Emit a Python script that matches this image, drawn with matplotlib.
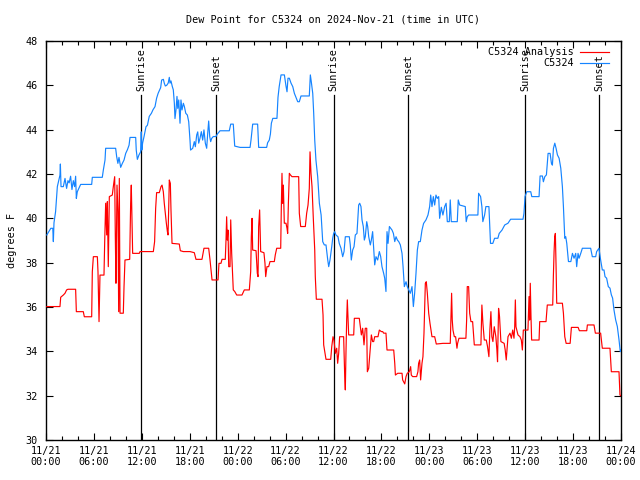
import matplotlib
matplotlib.use("Agg")
import matplotlib.pyplot as plt

# ---- data (hours since 2024-11-21 00:00 UTC, degrees F) ----
blue_h = [0.1, 0.6, 0.85, 0.92, 1.0, 1.2, 1.42, 1.75, 1.8, 1.88, 2.17, 2.38, 2.58, 2.75, 2.9, 3.08, 3.25, 3.42, 3.58, 3.71,
          3.8, 3.92, 4.34, 5.72, 5.8, 7.05, 7.18, 7.39, 7.47, 8.72, 8.85, 9.0, 9.14, 9.35, 9.56, 9.77, 9.98, 10.2, 10.4, 10.52,
          11.23, 11.3, 11.44, 11.64, 11.85, 11.93, 12.0, 12.1, 12.27, 12.52, 12.7, 12.93, 13.2, 13.4, 13.65, 13.85, 14.04,
          14.36, 14.48, 14.7, 14.81, 14.94, 15.11, 15.3, 15.44, 15.53, 15.65, 15.82, 15.94, 16.07, 16.15, 16.28, 16.4, 16.5,
          16.62, 16.78, 16.9, 17.03, 17.2, 17.33, 17.5, 17.7, 17.87, 18.03, 18.1, 18.37, 18.57, 18.7, 18.87, 19.0, 19.12,
          19.28, 19.45, 19.62, 19.78, 19.95, 20.12, 20.25, 20.37, 20.5, 20.62, 20.75, 20.95, 21.28, 21.45, 21.79, 22.95,
          23.13, 23.45, 23.63, 24.3, 25.55, 25.67, 25.88, 26.5, 26.63, 27.63, 27.75, 27.96, 28.1, 28.22, 28.4, 28.92, 29.05,
          29.2, 29.43, 29.85, 30.05, 30.18, 30.3, 30.47, 30.68, 30.9, 31.1, 31.3, 31.52, 31.72, 31.93, 32.97, 33.1, 33.22,
          33.4, 33.52, 33.65, 33.8, 34.02, 34.23, 34.45, 34.65, 34.85, 35.06, 35.28, 35.4, 35.56, 35.78, 35.9, 36.02, 36.15,
          36.3, 36.56, 36.72, 36.94, 37.15, 37.32, 37.48, 37.98, 38.1, 38.23, 38.4, 38.57, 38.73, 38.94, 39.15, 39.28, 39.44,
          39.57, 39.73, 39.86, 39.98, 40.16, 40.28, 40.41, 40.61, 40.74, 40.9, 41.03, 41.16, 41.32, 41.53, 41.74, 41.91,
          42.07, 42.28, 42.41, 42.57, 42.7, 42.83, 43.0, 43.17, 43.33, 43.5, 43.67, 43.83, 44.0, 44.17, 44.37, 44.58, 44.71,
          44.87, 45.08, 45.24, 45.42, 45.62, 45.83, 46.0, 46.16, 46.33, 46.5, 46.66, 46.87, 47.08, 47.28, 47.58, 47.83,
          48.04, 48.17, 48.33, 48.5, 48.67, 48.83, 49.0, 49.17, 49.29, 49.5, 49.7, 49.92, 50.1, 50.25, 50.5, 50.62, 50.75,
          51.5, 51.62, 51.8, 52.5, 52.62, 52.75, 52.92, 54.08, 54.17, 54.42, 54.58, 54.7, 54.92, 55.08, 55.46, 55.58, 55.66,
          55.95, 56.17, 56.58, 56.75, 57.1, 57.44, 57.85, 58.18, 59.73, 59.85, 59.98, 60.2, 60.7, 60.83, 61.74, 61.87, 62.16,
          62.28, 62.46, 62.66, 62.87, 63.12, 63.29, 63.41, 63.54, 63.71, 63.87, 64.04, 64.25, 64.46, 64.66, 64.79, 64.96,
          65.08, 65.21, 65.42, 65.72, 65.92, 66.12, 66.33, 66.45, 66.62, 66.75, 66.96, 67.16, 68.2, 68.41, 68.83, 68.95,
          69.24, 69.45, 69.66, 69.87, 70.0, 70.2, 70.41, 70.62, 70.79, 70.95, 71.12, 71.33, 71.54, 71.75, 71.91, 72.0]
blue_v = [39.25, 39.55, 39.55, 38.95, 39.8, 40.3, 41.43, 41.95, 42.45, 41.43, 41.43, 41.8, 41.35, 41.7, 41.6, 41.9, 41.3, 41.7,
          41.43, 41.9, 40.9, 41.2, 41.53, 41.53, 41.85, 41.85, 42.18, 42.63, 43.16, 43.16, 42.78, 42.48, 42.75, 42.3, 42.48,
          42.63, 42.93, 43.1, 43.3, 43.65, 43.65, 43.08, 42.66, 42.86, 43.0, 43.9, 43.08, 43.4, 43.68, 44.13, 44.2, 44.6,
          44.74, 44.9, 45.04, 45.42, 45.64, 45.9, 46.24, 46.27, 46.1, 45.97, 46.0, 46.1, 46.36, 46.1, 46.2, 45.94, 45.8, 45.2,
          44.5, 44.9, 45.5, 44.96, 45.34, 44.29, 45.34, 44.89, 45.19, 45.04, 44.74, 44.66, 44.36, 43.53, 43.08, 43.16, 43.46,
          43.23, 43.76, 43.9, 43.39, 43.61, 43.91, 43.53, 43.99, 43.39, 43.16, 43.84, 44.39, 43.69, 43.46, 43.61, 43.69,
          43.69, 43.8, 43.95, 43.95, 44.25, 44.25, 43.26, 43.2, 43.2, 43.53, 44.25, 44.25, 43.2, 43.2, 43.41, 43.53, 43.8,
          44.29, 44.51, 44.51, 45.46, 45.94, 46.47, 46.47, 45.97, 45.71, 46.32, 46.32, 46.1, 45.94, 45.64, 45.46, 45.26,
          45.26, 45.52, 45.52, 46.47, 46.16, 45.64, 44.74, 43.53, 42.63, 41.88, 40.68, 40.15, 38.95, 38.8, 38.8, 38.12, 37.82,
          38.12, 38.72, 39.1, 39.32, 39.4, 39.25, 39.17, 38.87, 38.65, 38.27, 38.5, 39.17, 39.17, 38.8, 38.12, 38.57, 38.72,
          39.25, 39.32, 40.6, 40.68, 40.53, 39.93, 39.63, 39.02, 39.17, 39.85, 39.63, 39.17, 38.8, 39.02, 39.4, 38.65, 37.9,
          38.27, 38.12, 38.5, 38.27, 37.82, 37.52, 37.3, 36.7, 39.4, 38.87, 39.63, 39.55, 39.47, 39.32, 38.95, 39.17, 39.02,
          38.95, 38.8, 38.42, 37.82, 36.92, 37.14, 36.92, 36.77, 36.62, 36.92, 36.02, 36.62, 37.52, 38.57, 38.95, 38.95,
          39.47, 39.77, 39.93, 40.15, 40.53, 41.05, 40.53, 40.98, 40.6, 41.05, 40.9, 40.98, 40.0, 40.5, 40.15, 40.53, 40.68,
          39.85, 39.85, 40.83, 39.85, 39.85, 40.83, 40.6, 40.53, 39.85, 40.07, 40.15, 40.15, 41.13, 40.98, 40.53, 39.85,
          40.15, 40.53, 40.53, 39.47, 38.87, 38.87, 39.1, 39.1, 39.32, 39.47, 39.7, 39.78, 39.96, 39.96, 40.23, 40.98, 41.2,
          41.2, 40.98, 40.98, 41.91, 41.91, 41.65, 41.88, 41.96, 42.93, 42.93, 42.48, 42.4, 43.16, 43.39, 43.16, 42.86,
          42.71, 42.26, 41.43, 40.53, 39.1, 39.17, 38.87, 38.05, 38.05, 38.42, 38.2, 38.42, 37.82, 38.42, 38.2, 38.42, 38.65,
          38.65, 38.27, 38.27, 38.5, 38.65, 38.12, 37.67, 37.67, 37.37, 37.3, 36.92, 36.85, 36.55, 36.4, 35.87, 35.42, 35.12,
          34.52, 33.99, 34.06]

red_h = [0.1, 1.75, 1.84, 2.17, 2.38, 2.58, 2.75, 3.71, 3.8, 4.67, 4.8, 5.72, 5.8, 5.93, 6.43, 6.51, 6.64, 6.72, 6.76, 7.26,
         7.35, 7.47, 7.6, 7.68, 7.8, 7.93, 8.3, 8.43, 8.6, 8.68, 8.76, 8.89, 9.01, 9.1, 9.18, 9.27, 9.68, 9.77, 9.89, 10.48,
         10.6, 10.68, 10.77, 10.85, 11.68, 11.77, 12.68, 13.44, 13.6, 13.73, 13.85, 14.19, 14.4, 14.53, 14.69, 14.81, 14.94,
         15.07, 15.2, 15.28, 15.36, 15.44, 15.57, 15.65, 15.78, 16.69, 16.82, 17.19, 18.03, 18.57, 18.7, 18.78, 19.53, 19.66,
         19.78, 20.37, 20.54, 20.66, 20.79, 21.54, 21.66, 21.91, 22.04, 22.45, 22.54, 22.62, 22.7, 22.79, 22.88, 23.04, 23.13,
         23.25, 23.45, 23.63, 23.88, 24.0, 24.54, 24.83, 25.46, 25.63, 25.71, 25.8, 25.88, 26.3, 26.38, 26.46, 26.55, 26.63,
         26.75, 26.88, 27.29, 27.42, 27.51, 27.67, 27.88, 28.05, 28.59, 28.71, 28.89, 29.39, 29.46, 29.55, 29.63, 29.72,
         29.84, 30.05, 30.18, 30.26, 30.35, 30.47, 30.6, 30.8, 31.64, 31.72, 31.89, 32.47, 32.64, 32.81, 32.97, 33.06, 33.18,
         33.31, 33.48, 33.65, 33.72, 33.85, 34.56, 34.69, 34.77, 35.06, 35.65, 35.78, 35.94, 36.06, 36.23, 36.4, 36.52,
         36.65, 36.77, 37.27, 37.4, 37.48, 37.56, 37.65, 37.73, 37.82, 37.9, 38.53, 38.61, 39.23, 39.36, 39.49, 39.65, 39.82,
         39.98, 40.16, 40.24, 40.41, 40.74, 40.9, 41.03, 41.16, 41.57, 41.74, 41.99, 42.16, 42.28, 42.57, 42.7, 43.54, 43.67,
         43.75, 44.04, 44.58, 44.66, 44.92, 45.08, 45.24, 45.49, 45.66, 45.74, 45.91, 46.41, 46.57, 46.66, 46.79, 46.91,
         47.08, 47.2, 47.33, 47.5, 47.62, 47.75, 47.92, 48.08, 48.33, 48.67, 48.87, 49.71, 50.62, 50.71, 50.79, 50.87,
         50.96, 51.13, 51.29, 51.46, 51.54, 51.71, 52.58, 52.67, 52.75, 52.92, 53.05, 53.21, 53.42, 53.63, 54.46, 54.58,
         54.71, 54.88, 55.13, 55.29, 55.46, 55.58, 55.71, 55.83, 55.96, 56.13, 56.33, 56.46, 56.54, 56.67, 56.79, 56.96,
         57.37, 57.5, 57.63, 57.85, 58.1, 58.27, 58.44, 58.6, 58.69, 58.77, 58.85, 59.1, 59.35, 59.52, 59.65, 59.77, 60.02,
         60.35, 60.48, 60.56, 60.64, 60.73, 60.81, 61.74, 61.82, 62.61, 62.7, 62.77, 63.45, 63.53, 63.62, 63.7, 63.78,
         63.87, 63.95, 64.66, 64.79, 64.96, 65.13, 65.63, 65.79, 66.63, 66.79, 67.71, 67.79, 68.62, 68.79, 69.45, 69.66,
         70.62, 70.79, 71.75, 71.87, 72.0]
red_v = [36.02, 36.02, 36.44, 36.54, 36.62, 36.77, 36.8, 36.8, 35.79, 35.79, 35.56, 35.56, 37.59, 38.27, 38.27, 37.59, 35.34,
         36.77, 37.44, 37.44, 38.95, 40.68, 39.25, 40.75, 37.82, 40.98, 41.05, 41.43, 41.88, 39.17, 37.07, 41.5, 40.3, 35.79,
         41.8, 35.72, 35.72, 36.92, 38.12, 38.15, 40.68, 41.5, 39.93, 38.42, 38.42, 38.5, 38.5, 38.5, 38.95, 40.45, 41.16,
         41.16, 41.43, 41.5, 41.2, 40.68, 40.23, 39.78, 39.4, 39.25, 40.38, 41.73, 41.58, 40.38, 38.87, 38.84, 38.54, 38.5,
         38.5, 38.45, 38.27, 38.15, 38.15, 38.42, 38.65, 38.65, 38.12, 37.67, 37.22, 37.22, 37.97, 37.97, 38.15, 38.15, 39.02,
         40.07, 39.02, 39.47, 37.82, 37.82, 39.93, 38.42, 36.77, 36.7, 36.54, 36.54, 36.54, 36.77, 36.77, 37.6, 39.17, 40.0,
         38.57, 38.54, 38.05, 37.52, 37.37, 39.63, 40.38, 38.5, 38.45, 37.97, 37.37, 37.82, 37.82, 38.05, 38.05, 38.35, 38.65,
         38.65, 40.38, 42.03, 40.68, 41.5, 39.78, 39.78, 39.55, 39.32, 40.68, 42.03, 41.96, 41.88, 41.88, 40.23, 39.63, 39.63,
         40.23, 40.6, 41.35, 43.0, 42.03, 41.43, 39.93, 38.57, 37.37, 36.35, 36.35, 35.64, 34.29, 33.64, 33.64, 34.21, 34.66,
         34.51, 33.91, 34.14, 33.46, 33.91, 34.66, 34.66, 32.93, 32.26, 33.91, 35.41, 36.32, 35.49, 34.74, 34.74, 35.49,
         35.49, 35.11, 34.74, 35.04, 34.29, 35.04, 35.04, 33.08, 33.24, 34.74, 34.44, 34.44, 34.66, 34.66, 34.96, 34.89,
         34.89, 34.82, 34.82, 34.06, 34.06, 33.46, 32.93, 33.01, 33.01, 32.71, 32.53, 32.86, 33.01, 33.08, 33.31, 32.93, 32.86,
         32.86, 33.08, 33.46, 33.61, 32.71, 33.46, 33.76, 34.82, 37.07, 37.14, 36.62, 35.72, 35.27, 34.66, 34.66, 34.33,
         34.36, 34.36, 35.64, 36.62, 35.41, 34.96, 34.66, 34.66, 34.14, 34.36, 34.59, 34.59, 35.41, 36.92, 36.92, 35.72,
         35.34, 35.34, 34.29, 34.29, 36.09, 35.26, 34.51, 34.51, 34.21, 33.76, 34.96, 35.79, 34.66, 34.44, 35.11, 34.66,
         34.06, 33.53, 35.94, 35.56, 34.44, 34.36, 34.06, 33.61, 34.66, 34.82, 34.59, 34.96, 34.59, 35.11, 36.32, 35.11,
         34.74, 34.66, 34.51, 34.06, 34.96, 34.96, 34.96, 36.47, 35.41, 37.07, 35.56, 34.51, 34.51, 35.34, 35.34, 35.79,
         36.09, 36.09, 37.37, 38.5, 39.17, 39.32, 37.82, 36.17, 36.17, 35.72, 34.66, 34.36, 34.36, 35.08, 35.08, 34.93,
         34.93, 35.19, 35.19, 34.82, 34.82, 34.14, 34.14, 33.08, 33.08, 32.03, 31.99]

sunrise_h = [11.93, 36.03, 59.98]
sunset_h = [21.33, 45.37, 69.28]

xtick_pos = [0, 6, 12, 18, 24, 30, 36, 42, 48, 54, 60, 66, 72]
xtick_labels = ["11/21\n00:00", "11/21\n06:00", "11/21\n12:00", "11/21\n18:00",
                "11/22\n00:00", "11/22\n06:00", "11/22\n12:00", "11/22\n18:00",
                "11/23\n00:00", "11/23\n06:00", "11/23\n12:00", "11/23\n18:00",
                "11/24\n00:00"]
ytick_pos = [30, 32, 34, 36, 38, 40, 42, 44, 46, 48]

title = "Dew Point for C5324 on 2024-Nov-21 (time in UTC)"
ylabel = "degrees F"
label_red = "C5324 Analysis"
label_blue = "C5324"

# ---- drawing ----
FONT = "DejaVu Sans Mono"
FS = 7.3
plt.rcParams['font.family'] = FONT

fig = plt.figure(figsize=(6.4, 4.8), dpi=100)
ax = fig.add_axes([46/640, 1 - 440/480, (621-46)/640, (440-41)/480])

ax.set_xlim(0, 72)
ax.set_ylim(30, 48)

# sunrise / sunset markers
y_line_top = 45.55
for h in sunrise_h:
    ax.plot([h, h], [30, y_line_top], color='black', lw=0.9, zorder=2)
    ax.text(h, y_line_top + 0.2, "Sunrise", rotation=90, ha='center', va='bottom',
            fontsize=FS, family=FONT, zorder=3)
for h in sunset_h:
    ax.plot([h, h], [30, y_line_top], color='black', lw=0.9, zorder=2)
    ax.text(h, y_line_top + 0.2, "Sunset", rotation=90, ha='center', va='bottom',
            fontsize=FS, family=FONT, zorder=3)

ax.plot(red_h, red_v, color='#ff0000', lw=0.85, label=label_red, zorder=4)
ax.plot(blue_h, blue_v, color='#1584ff', lw=0.85, label=label_blue, zorder=5)

ax.set_xticks(xtick_pos)
ax.set_xticklabels(xtick_labels, fontsize=FS, family=FONT)
ax.set_xticks(range(0, 73, 2), minor=True)
ax.set_yticks(ytick_pos)
ax.set_yticklabels([str(v) for v in ytick_pos], fontsize=FS, family=FONT)
ax.tick_params(axis='both', which='major', direction='in', length=5, width=0.8,
               top=True, right=True, pad=4)
ax.tick_params(axis='both', which='minor', direction='in', length=3, width=0.8,
               top=True, right=True)
ax.tick_params(axis='y', which='major', pad=6)

for s in ax.spines.values():
    s.set_linewidth(1.0)

ax.set_ylabel(ylabel, fontsize=FS, family=FONT, labelpad=6)
fig.text(333/640, 1 - 19/480, title, ha='center', va='center', fontsize=FS, family=FONT)

leg = ax.legend(loc='upper right', frameon=False, markerfirst=False,
                prop={'family': FONT, 'size': FS}, handlelength=2.9,
                borderaxespad=0.2, labelspacing=0.1, handletextpad=0.6,
                bbox_to_anchor=(0.99, 1.0))
leg.set_zorder(6)

fig.savefig("out.png", dpi=100)
